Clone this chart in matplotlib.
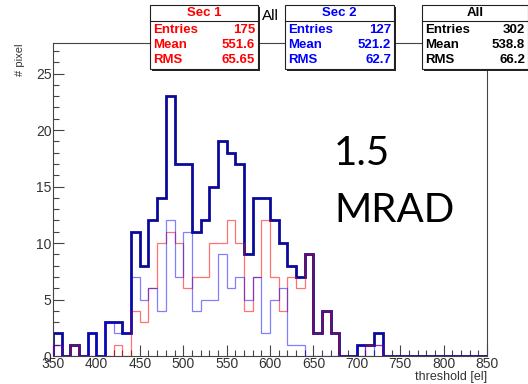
import numpy as np
import matplotlib
matplotlib.use("Agg")
import matplotlib.pyplot as plt
from matplotlib.patches import Rectangle
from matplotlib.ticker import MultipleLocator

plt.rcParams['font.family'] = ['Liberation Sans', 'DejaVu Sans']

# histogram bins: 350..850, width 10
edges = np.arange(350, 851, 10)

# counts for bins starting at 350, 360, ... 720 (rest are zero)
sec1_counts = [1, 0, 1, 0, 0, 0, 0, 1, 0, 4, 3, 6, 10, 11, 10, 6, 7, 7, 10, 10,
               12, 10, 4, 7, 12, 7, 4, 7, 6, 9, 2, 4, 2, 0, 0, 0, 1, 1]
sec2_counts = [1, 0, 0, 0, 2, 0, 3, 2, 2, 7, 5, 6, 4, 12, 7, 11, 4, 5, 5, 9,
               6, 7, 5, 7, 2, 5, 6, 1, 1, 0, 0, 0, 0, 0, 0, 1, 0, 1]

def pad(c):
    return np.array(c + [0] * (len(edges) - 1 - len(c)), dtype=float)

sec1 = pad(sec1_counts)
sec2 = pad(sec2_counts)
allh = sec1 + sec2

stats_titles = ["Sec 1", "Sec 2", "All"]
stats_entries = ["175", "127", "302"]
stats_mean = ["551.6", "521.2", "538.8"]
stats_rms = ["65.65", "62.7", "66.2"]
stats_colors = ["#ff0000", "#0000ff", "#000000"]

W, H = 528, 384
fig = plt.figure(figsize=(W / 100, H / 100), dpi=100)
ax = fig.add_axes([53 / W, 1 - 356 / H, (487 - 53) / W, (356 - 43) / H])

ax.stairs(allh, edges, color="#0a0a9a", lw=2.0, zorder=2)
ax.stairs(sec1, edges, color="#ff0000", lw=0.9, alpha=0.55, zorder=3)
ax.stairs(sec2, edges, color="#0000ff", lw=0.9, alpha=0.5, zorder=3)

ax.set_xlim(350, 850)
ax.set_ylim(0, 27.7)
ax.xaxis.set_major_locator(MultipleLocator(50))
ax.xaxis.set_minor_locator(MultipleLocator(10))
ax.yaxis.set_major_locator(MultipleLocator(5))
ax.yaxis.set_minor_locator(MultipleLocator(1))
ax.tick_params(which="both", direction="in", colors="#444444", labelcolor="#333333",
               labelsize=10, width=0.8)
ax.tick_params(which="major", length=8, pad=1)
ax.tick_params(which="minor", length=4)
for s in ax.spines.values():
    s.set_color("#444444")
    s.set_linewidth(0.8)

# overlay in pixel coordinates for labels and stat boxes
ov = fig.add_axes([0, 0, 1, 1], zorder=10)
ov.set_xlim(0, W)
ov.set_ylim(H, 0)
ov.axis("off")

ov.text(487, 377, "threshold [el]", ha="right", va="center",
        fontsize=9, color="#333333")
ov.text(20, 43, "# pixel", ha="center", va="top", rotation=90,
        fontsize=8, color="#333333")

ov.text(334, 165, "1.5", fontsize=29, family=["Lato", "DejaVu Sans"],
        ha="left", va="baseline")
ov.text(334, 222, "MRAD", fontsize=29, family=["Lato", "DejaVu Sans"],
        ha="left", va="baseline")

ov.text(270, 16, "All", ha="center", va="center", fontsize=11)

box_x = [150, 285, 422]
box_w = [108, 109, 106]
for bx, bw, t, e, m, r, c in zip(box_x, box_w, stats_titles, stats_entries,
                                  stats_mean, stats_rms, stats_colors):
    ov.add_patch(Rectangle((bx + 2, 7), bw, 64, facecolor="#222222", edgecolor="none"))
    ov.add_patch(Rectangle((bx, 5), bw, 64, facecolor="white", edgecolor="#222222", lw=0.8))
    ov.plot([bx, bx + bw], [21, 21], color="#222222", lw=0.8)
    ov.text(bx + bw / 2, 13.5, t, ha="center", va="center", color=c,
            fontsize=9.5, fontweight="bold")
    for yy, lab, val in zip([30, 45, 60], ["Entries", "Mean", "RMS"], [e, m, r]):
        ov.text(bx + 3, yy, lab, ha="left", va="center", color=c,
                fontsize=9.5, fontweight="bold")
        ov.text(bx + bw - 3, yy, val, ha="right", va="center", color=c,
                fontsize=9.5, fontweight="bold")

fig.savefig("out.png", dpi=100)
